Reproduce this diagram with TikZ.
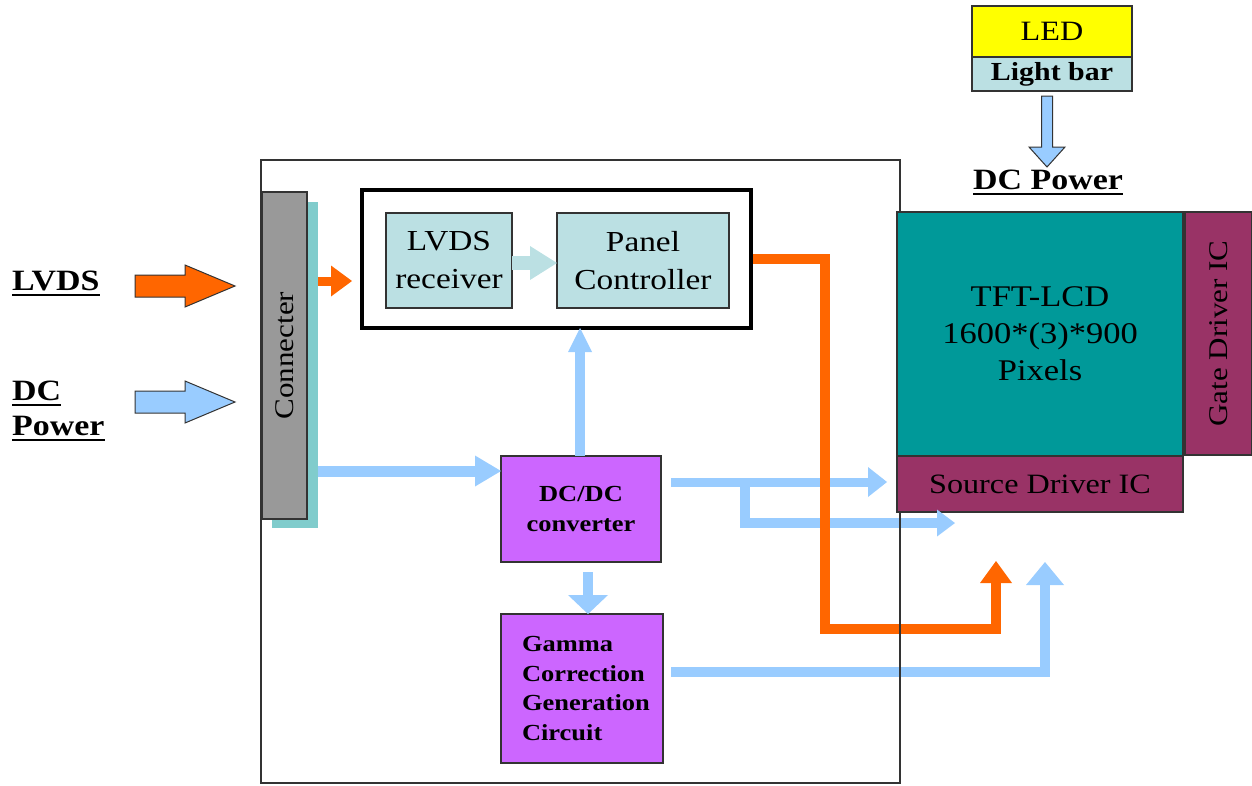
\documentclass[tikz,border=0pt]{standalone}
\usepackage{fontspec}
\setmainfont{Liberation Serif}[FakeStretch=1.15]
\usetikzlibrary{arrows.meta,calc}
\definecolor{orng}{HTML}{FF6600}
\definecolor{lblue}{HTML}{99CCFF}
\definecolor{lteal}{HTML}{BBE0E3}
\definecolor{cshadow}{HTML}{80CCCC}
\definecolor{cgray}{HTML}{999999}
\definecolor{purp}{HTML}{CC66FF}
\definecolor{tftc}{HTML}{009999}
\definecolor{maroonc}{HTML}{993366}
\definecolor{ledy}{HTML}{FFFF00}
\definecolor{edgec}{HTML}{333333}
\newcommand\fsz[2]{\fontsize{#1}{#2}\selectfont}
\newcommand\ulbl[1]{\setbox0=\hbox{#1}\rlap{\rule[-6pt]{\wd0}{2pt}}\box0}
\begin{document}
\begin{tikzpicture}[x=1pt,y=-1pt,line join=miter,
  box/.style={draw=edgec,line width=1.2pt,inner sep=0pt,outer sep=0pt,align=center},
  blk/.style n args={4}{draw=#1,line width=#2,-{Triangle[length=#3,width=#4,line width=0pt]}},
  lbl/.style={inner sep=0pt,font=\bfseries\fsz{29.5}{31}},
  inarrow/.style={draw=edgec,line width=1pt}
]
\useasboundingbox (0,0) rectangle (1252,785);

% connector
\node[box,fill=cshadow,draw=none,minimum width=46pt,minimum height=326pt] (cshad) at (295,365) {};
\node[box,fill=cgray,minimum width=45pt,minimum height=327pt] (conn) at (284.5,355.5) {};
\node[rotate=90,font=\fsz{27}{30},inner sep=0pt] (conntxt) at (conn.center) {Connecter};

% controller block
\node[box,draw=black,line width=4pt,minimum width=389pt,minimum height=138pt] (ctrl) at (556.5,259) {};
\node[box,fill=lteal,minimum width=126pt,minimum height=95pt,font=\fsz{29}{38}] (rx) at (449,260.5) {LVDS\\receiver};
\node[box,fill=lteal,minimum width=172pt,minimum height=95pt,font=\fsz{29}{38}] (pc) at (643,260.5) {Panel\\Controller};

% power blocks
\node[box,fill=purp,minimum width=160pt,minimum height=106pt,font=\bfseries\fsz{23}{29.5}] (dcdc) at (581,509) {DC/DC\\converter};
\node[box,fill=purp,align=left,text width=120pt,inner xsep=21pt,minimum height=149pt,font=\bfseries\fsz{23}{29.5}] (gamma) at (582,688.5) {Gamma\\Correction\\Generation\\Circuit};

% panel
\node[box,fill=tftc,minimum width=286pt,minimum height=244pt,font=\fsz{30}{37}] (tft) at (1040,334) {TFT-LCD\\1600*(3)*900\\Pixels};
\node[box,fill=maroonc,minimum width=286pt,minimum height=56pt,font=\fsz{28}{30}] (src) at (1040,484) {Source Driver IC};
\node[box,fill=maroonc,minimum width=67pt,minimum height=243pt] (gate) at (1218.5,333.5) {};
\node[rotate=90,font=\fsz{27}{30},inner sep=0pt] (gatetxt) at (gate.center) {Gate Driver IC};

% LED
\node[box,fill=ledy,minimum width=160pt,minimum height=51pt,font=\fsz{28}{30}] (led) at (1052,31.5) {LED};
\node[box,fill=lteal,minimum width=160pt,minimum height=34pt,font=\bfseries\fsz{26}{28}] (lbar) at (1052,74) {Light bar};
\node[lbl,anchor=base] (dcpw) at (1048,189) {\ulbl{DC Power}};
\draw[inarrow,fill=lblue] (1041.5,96) -- (1052.5,96) -- (1052.5,147) -- (1065,147) -- (1047,167) -- (1029,147) -- (1041.5,147) -- cycle;

% input labels and arrows
\node[lbl,anchor=base west] (lvdslbl) at (12,290) {\ulbl{LVDS}};
\node[lbl,anchor=base west] (dclbl) at (12,400) {\ulbl{DC}};
\node[lbl,anchor=base west] (pwlbl) at (12,435) {\ulbl{Power}};
\draw[inarrow,fill=orng] (135,275) -- (185,275) -- (185,265) -- (235,286) -- (185,307) -- (185,297) -- (135,297) -- cycle;
\draw[inarrow,fill=lblue] (135,391) -- (185,391) -- (185,381) -- (235,402) -- (185,423) -- (185,413) -- (135,413) -- cycle;

% internal connectors
\draw[blk={lteal}{14pt}{27pt}{34pt}] ([yshift=-2.5pt]rx.east) -- ([yshift=-2.5pt]pc.west);
\draw[blk={orng}{9pt}{21pt}{31pt}] ([yshift=84pt]cshad.east) -- ([xshift=-10pt,yshift=-22pt]ctrl.west);
\draw[blk={lblue}{11pt}{26pt}{31pt}] ([yshift=-106pt]cshad.east) -- ([yshift=38pt]dcdc.west);

\coordinate (a4s) at ([xshift=-1pt]dcdc.north);
\draw[blk={lblue}{10pt}{24pt}{24pt}] (a4s) -- (a4s |- ctrl.south);

\coordinate (a5s) at ([xshift=7pt,yshift=-10pt]dcdc.south);
\draw[blk={lblue}{10pt}{19pt}{40pt}] (a5s) -- (a5s |- gamma.north);

\coordinate (a6s) at ([xshift=10pt,yshift=27pt]dcdc.east);
\coordinate (a6e) at ($(a6s -| tft.west)+(-10,0)$);
\draw[blk={lblue}{9pt}{19pt}{30pt}] (a6s) -- (a6e);

\coordinate (a7s) at ($(a6s)+(74,-4)$);
\coordinate (a7e) at ($(a7s)+(210,45)$);
\draw[blk={lblue}{10pt}{18pt}{27pt}] (a7s) |- (a7e);

\coordinate (a8s) at ($(gamma.east)+(8,-16.5)$);
\coordinate (a8e) at ($(src.south)+(5,50)$);
\draw[blk={lblue}{10pt}{23pt}{38pt}] (a8s) -| (a8e);

\coordinate (a9m) at (825,629);
\coordinate (a9e) at ($(src.south)+(-44,49)$);
\draw[blk={orng}{10pt}{22pt}{32pt}] ([xshift=2pt]ctrl.east) -| (a9m) -| (a9e);

% outer module frame
\node[minimum width=639pt,minimum height=623pt,inner sep=0pt,outer sep=0pt] (outer) at (580.5,471.5) {};
\draw[edgec,line width=1.5pt] (outer.north east |- tft.north) -- (outer.north east) -- (outer.north west) -- (outer.south west) -- (outer.south east) -- (outer.south east |- src.south);
\end{tikzpicture}
\end{document}
